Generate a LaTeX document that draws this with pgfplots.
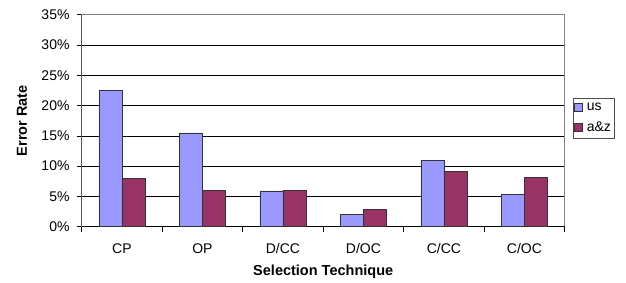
\documentclass[border=0pt]{standalone}
\usepackage{pgfplots}
\pgfplotsset{compat=1.18}
\usepackage{fontspec}
\setmainfont{Liberation Sans}
\definecolor{usc}{HTML}{9999FF}
\definecolor{azc}{HTML}{993366}
\definecolor{framegray}{HTML}{808080}
\pgfplotstableread{
x us az
0 22.5 8.0
1 15.5 6.0
2 5.9 6.0
3 2.0 2.9
4 11.0 9.1
5 5.3 8.1
}\datatable
\begin{document}
\begin{tikzpicture}
\useasboundingbox (-81.7pt,-55.3pt) rectangle (544.3pt,226.7pt);
\begin{axis}[
  at={(0pt,0pt)}, anchor=south west,
  scale only axis, width=483pt, height=212pt,
  xmin=-0.5, xmax=5.5, ymin=0, ymax=35,
  ybar=0pt, bar width=23pt,
  axis line style={framegray, line width=0.6pt},
  tick align=outside,
  xtick pos=bottom, ytick pos=left,
  major tick length=5pt,
  tick style={black, line width=0.6pt},
  xtick={-0.5,0.5,1.5,2.5,3.5,4.5,5.5}, xticklabels={},
  extra x ticks={0,1,2,3,4,5},
  extra x tick labels={CP,OP,D/CC,D/OC,C/CC,C/OC},
  extra x tick style={major tick length=0pt, xticklabel style={anchor=base, inner sep=0pt, yshift=-26.6pt}},
  ytick={0,5,10,15,20,25,30,35},
  yticklabels={0\%,5\%,10\%,15\%,20\%,25\%,30\%,35\%},
  yticklabel style={anchor=east, inner sep=0pt, xshift=-7pt},
  ticklabel style={font=\fontsize{14}{16}\selectfont},
  ymajorgrids,
  grid style={black, line width=0.6pt},
  xlabel={Selection Technique},
  ylabel={Error Rate},
  label style={font=\fontsize{14.5}{16}\selectfont\bfseries},
  xlabel style={at={(axis description cs:0.5,-0.2137)}, anchor=center},
  ylabel style={at={(axis description cs:-0.1236,0.5)}, anchor=center},
  legend style={at={(axis description cs:1.0172,0.6085)}, anchor=north west,
    draw=black!70, line width=0.6pt, font=\fontsize{14}{16}\selectfont,
    inner xsep=1pt, inner ysep=3pt, row sep=6pt},
  legend cell align=left,
  legend image code/.code={\draw[#1, line width=0.5pt] (0pt,-4pt) rectangle (8pt,4pt); \path (10pt,0pt);},
]
\draw[black, line width=0.6pt] (rel axis cs:0,0) -- (rel axis cs:0,1);
\draw[black, line width=0.6pt] (rel axis cs:0,0) -- (rel axis cs:1,0);
\addplot[fill=usc, draw=black!80, line width=0.5pt] table[x=x, y=us] {\datatable};
\addplot[fill=azc, draw=black!80, line width=0.5pt] table[x=x, y=az] {\datatable};
\legend{us, a\&z}
\end{axis}
\end{tikzpicture}
\end{document}
